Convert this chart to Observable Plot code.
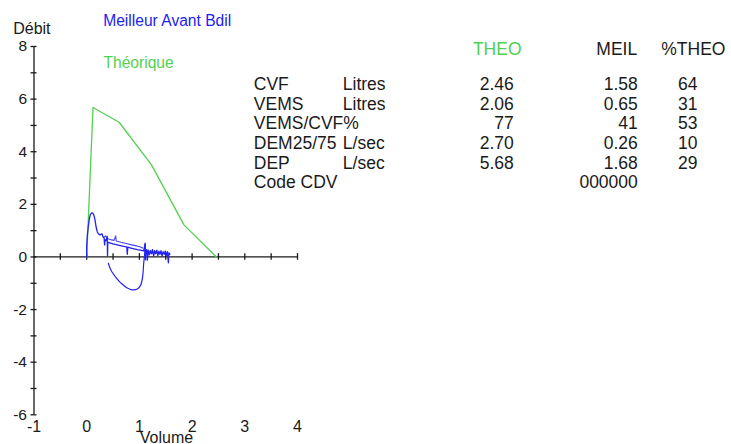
<!DOCTYPE html>
<html>
<head>
<meta charset="utf-8">
<script src="https://cdn.jsdelivr.net/npm/d3@7"></script>
<script src="https://cdn.jsdelivr.net/npm/@observablehq/plot@0.6"></script>
<style>
  body { margin: 0; background: #fff; }
  #chart svg { display: block; }
</style>
</head>
<body>
<div id="chart"></div>
<script>
// Flow–volume curves: each point is [volume (L), débit (L/s)]
const theoretical = [
  [0, 0], [0.12, 5.68], [0.615, 5.12], [1.23, 3.5], [1.845, 1.22], [2.46, 0]
];

// Best pre-bronchodilator trial, expiratory limb
const expiration = [
  [0, 0], [0, 0.4], [0.01, 0.78], [0.03, 1.15], [0.05, 1.45], [0.07, 1.62], [0.1, 1.68],
  [0.12, 1.66], [0.14, 1.56], [0.16, 1.38], [0.18, 1.12], [0.2, 0.96], [0.22, 0.88],
  [0.25, 0.84], [0.27, 0.86], [0.29, 0.88], [0.31, 0.76], [0.33, 0.72], [0.34, 0.46],
  [0.35, 0.66], [0.37, 0.62], [0.39, 0.78], [0.395, 0.05], [0.4, 0.56], [0.45, 0.53],
  [0.5, 0.5], [0.56, 0.47], [0.62, 0.44], [0.68, 0.41], [0.73, 0.39], [0.76, 0.38],
  [0.77, 0.1], [0.78, 0.37], [0.84, 0.34], [0.9, 0.31], [0.96, 0.28], [1.02, 0.26],
  [1.08, 0.23], [1.11, 0.52], [1.115, -0.11], [1.12, 0.2], [1.14, 0.28], [1.15, -0.12],
  [1.17, 0.26], [1.19, 0.08], [1.21, 0.25], [1.23, 0.12], [1.25, 0.28], [1.27, 0.03],
  [1.29, 0.24], [1.31, 0.12], [1.33, 0.26], [1.35, 0.05], [1.37, 0.22], [1.39, 0.1],
  [1.41, 0.24], [1.43, 0.03], [1.45, 0.2], [1.47, 0.1], [1.49, 0.22], [1.51, 0.06],
  [1.53, 0.2], [1.55, -0.22], [1.56, 0.16], [1.58, 0.1]
];

// Second, overlapping pass of the expiratory plateau
const expirationRepeat = [
  [0.33, 0.76], [0.36, 0.8], [0.38, 0.7], [0.45, 0.66], [0.52, 0.63], [0.55, 0.8],
  [0.56, 0.61], [0.65, 0.56], [0.75, 0.51], [0.85, 0.46], [0.95, 0.42], [1.02, 0.38],
  [1.06, 0.34]
];

// Inspiratory limb (negative débit)
const inspiration = [
  [0.41, -0.24], [0.45, -0.46], [0.48, -0.57], [0.58, -0.84], [0.67, -1.03],
  [0.77, -1.18], [0.86, -1.25], [0.96, -1.22], [1.02, -1.09], [1.05, -0.9],
  [1.07, -0.58], [1.08, -0.27], [1.1, 0.1], [1.11, 0.5]
];

// Results table
const tableHeaders = ["THEO", "MEIL", "%THEO"];
const tableNames = ["CVF", "VEMS", "VEMS/CVF%", "DEM25/75", "DEP", "Code CDV"];
const tableUnits = ["Litres", "Litres", "", "L/sec", "L/sec", ""];
const theoValues = ["2.46", "2.06", "77", "2.70", "5.68", ""];
const meilValues = ["1.58", "0.65", "41", "0.26", "1.68", "000000"];
const pctValues = ["64", "31", "53", "10", "29", ""];

// Axis ticks
const xLabelTicks = [-1, 0, 1, 2, 3, 4];
const xMarkTicks = [-0.5, 0, 0.5, 1, 1.5, 2, 2.5, 3, 3.5, 4];
const yLabelTicks = [-6, -4, -2, 0, 2, 4, 6, 8];
const yMarkTicks = [-6, -5, -4, -3, -2, -1, 0, 1, 2, 3, 4, 5, 6, 7, 8];

const W = 731, H = 444;
const mL = 33.5, mR = 434, mT = 46, mB = 29.7;
const FONT = "'Liberation Sans', Arial, Helvetica, sans-serif";
const BLUE = "#2222f0";
const GREEN = "#52d052";
const INK = "#1a1a1a";

// Text anchored to the frame's top-left corner, positioned by its baseline
function label(text, x, baseline, {anchor = "start", fill = INK, size = 16, lineHeight = 1} = {}) {
  return Plot.text([text], {
    text: d => d,
    frameAnchor: "top-left",
    dx: x - mL,
    dy: baseline - mT,
    lineAnchor: "bottom",
    textAnchor: anchor,
    fill,
    fontSize: size,
    fontFamily: FONT,
    lineHeight
  });
}

const rowGap = 19.68, tableSize = 17.5, lastBaseline = 187.9;
const column = (values, x, anchor) =>
  label(values.join("\n"), x, lastBaseline, {anchor, size: tableSize, lineHeight: rowGap / tableSize});

const chart = Plot.plot({
  width: W,
  height: H,
  marginLeft: mL,
  marginRight: mR,
  marginTop: mT,
  marginBottom: mB,
  style: {fontFamily: FONT, background: "#fff", overflow: "visible"},
  x: {domain: [-1, 4], label: null},
  y: {domain: [-6, 8], label: null},
  marks: [
    // axis lines
    Plot.ruleX([-1], {stroke: INK, strokeWidth: 1.3}),
    Plot.ruleY([0], {stroke: INK, strokeWidth: 1.3}),
    // tick marks crossing the axis lines
    Plot.ruleY(yMarkTicks, {y: d => d, x1: -1, x2: -1, insetLeft: -3, insetRight: -3, stroke: INK, strokeWidth: 1.3}),
    Plot.ruleX(xMarkTicks, {x: d => d, y1: 0, y2: 0, insetTop: -3.3, insetBottom: -3.3, stroke: INK, strokeWidth: 1.3}),
    // tick labels
    Plot.axisY({ticks: yLabelTicks, tickSize: 0, tickPadding: 7, tickFormat: d => String(d), fontSize: 15.5, fill: INK, label: null}),
    Plot.axisX({ticks: xLabelTicks, tickSize: 0, tickPadding: 6, tickFormat: d => String(d), fontSize: 16, fill: INK, label: null}),
    // curves
    Plot.line(theoretical, {x: d => d[0], y: d => d[1], stroke: GREEN, strokeWidth: 1.3}),
    Plot.line(inspiration, {x: d => d[0], y: d => d[1], stroke: BLUE, strokeWidth: 1.2, curve: "catmull-rom"}),
    Plot.line(expirationRepeat, {x: d => d[0], y: d => d[1], stroke: BLUE, strokeWidth: 1.1, strokeOpacity: 0.85}),
    Plot.line(expiration, {x: d => d[0], y: d => d[1], stroke: BLUE, strokeWidth: 1.3}),
    // axis titles and legend
    label("Débit", 12.7, 33.5, {size: 16}),
    label("Volume", 166, 442, {anchor: "middle", size: 16}),
    label("Meilleur Avant Bdil", 102.7, 25, {fill: BLUE, size: 15.6}),
    label("Théorique", 103, 67, {fill: GREEN, size: 15.6}),
    // results table
    label(tableHeaders[0], 496.7, 54.5, {anchor: "middle", fill: GREEN, size: tableSize}),
    label(tableHeaders[1], 636.7, 54.5, {anchor: "end", size: tableSize}),
    label(tableHeaders[2], 725, 54.5, {anchor: "end", size: tableSize}),
    column(tableNames, 253.3, "start"),
    column(tableUnits, 342.3, "start"),
    column(theoValues, 513.3, "end"),
    column(meilValues, 637.3, "end"),
    column(pctValues, 697, "end")
  ]
});

document.getElementById("chart").append(chart);
</script>
</body>
</html>
